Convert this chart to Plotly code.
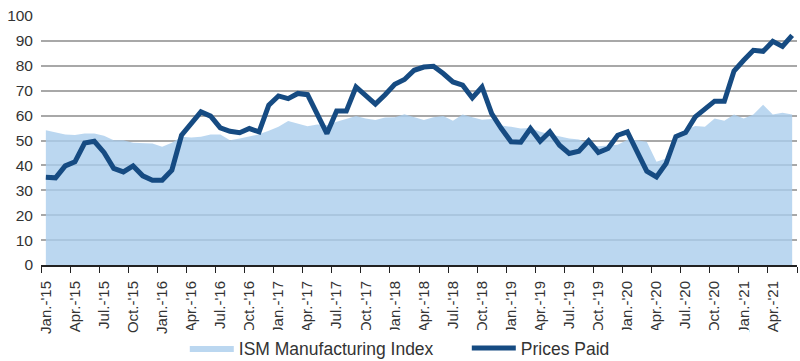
import plotly.graph_objects as go

month_abbr = ["Jan.", "Apr.", "Jul.", "Oct."]
years = ["15", "16", "17", "18", "19", "20", "21"]
tick_labels = [f"{m}-'{y}" for y in years for m in month_abbr][:26]

ism = [54.1, 53.2, 52.4, 52.2, 52.8, 52.8, 51.9, 50.1, 50.1, 49.1, 49.1, 48.8,
       47.5, 49.1, 51.5, 51.2, 51.5, 52.4, 52.4, 50.1, 50.8, 51.5, 52.5, 53.9,
       55.5, 57.8, 56.8, 55.7, 56.4, 56.1, 57.5, 58.8, 59.8, 58.8, 58.2, 59.2,
       59.3, 60.5, 59.2, 58.2, 59.3, 59.8, 57.9, 60.4, 59.3, 58.3, 58.6, 56.0,
       55.5, 54.8, 55.0, 53.5, 52.5, 51.5, 50.8, 50.4, 48.8, 47.7, 48.1, 48.3,
       50.3, 50.1, 49.5, 41.5, 42.8, 52.6, 54.2, 55.8, 55.5, 58.8, 57.9, 60.4,
       58.8, 60.4, 64.4, 60.4, 61.1, 60.4]

prices = [35.2, 35.0, 39.8, 41.4, 49.0, 49.7, 45.2, 38.8, 37.4, 39.8, 35.8, 34.0,
          34.0, 38.1, 52.1, 57.1, 61.5, 59.8, 55.1, 53.7, 53.1, 54.8, 53.5, 64.2,
          67.9, 66.8, 68.9, 68.4, 60.2, 52.8, 61.8, 61.8, 71.5, 67.9, 64.6, 68.4,
          72.6, 74.5, 78.2, 79.5, 79.8, 76.9, 73.5, 72.2, 67.1, 71.5, 60.8, 54.8,
          49.5, 49.3, 54.8, 49.7, 53.5, 48.1, 44.8, 45.7, 49.9, 45.2, 46.8, 52.1,
          53.5, 45.5, 37.7, 35.4, 40.8, 51.6, 53.2, 59.5, 62.8, 65.8, 65.8, 77.9,
          82.2, 86.2, 85.8, 89.8, 87.8, 92.2]

months = list(range(len(prices)))
tick_positions = months[::3]

fig = go.Figure()
fig.add_trace(go.Scatter(
    x=months, y=ism, name="ISM Manufacturing Index", mode="lines",
    line=dict(width=0, color="rgba(170,205,236,0.8)"),
    fill="tozeroy", fillcolor="rgba(170,205,236,0.8)",
))
fig.add_trace(go.Scatter(
    x=months, y=prices, name="Prices Paid", mode="lines",
    line=dict(width=5, color="#164B82"),
))

fig.update_layout(
    width=800, height=361,
    margin=dict(l=41, r=3, t=16, b=96, autoexpand=False),
    paper_bgcolor="white", plot_bgcolor="white",
    font=dict(family="Liberation Sans, Arial, sans-serif", color="#333333"),
    showlegend=True,
    legend=dict(orientation="h", xref="container", x=0.231, xanchor="left",
                yref="container", y=0.036, yanchor="middle",
                font=dict(size=17.5, color="#333333"), itemwidth=44,
                entrywidth=223, entrywidthmode="pixels",
                tracegroupgap=0, traceorder="normal"),
)

fig.update_xaxes(
    automargin=False,
    range=[-0.5, len(months) - 0.5],
    tickmode="array", tickvals=tick_positions, ticktext=tick_labels,
    tickangle=-90, tickfont=dict(size=15, color="#333333"),
    ticks="outside", ticklen=8, tickcolor="rgba(0,0,0,0)",
    showgrid=False, zeroline=False,
    showline=True, linecolor="#222222", linewidth=2,
    minor=dict(tickmode="linear", tick0=-0.5, dtick=3, ticks="outside",
               ticklen=6, tickcolor="#222222", tickwidth=1.2, showgrid=False),
)
fig.update_yaxes(
    automargin=False,
    range=[0, 100], dtick=10, tickfont=dict(size=15.5, color="#333333"),
    showgrid=True, gridcolor="#A8A8A8", gridwidth=1.5,
    zeroline=False, showline=False, ticks="", ticklabelstandoff=7,
)

fig.write_html("out.html", config={"displayModeBar": False},
               post_script="document.body.style.margin='0';document.body.style.overflow='hidden';")
